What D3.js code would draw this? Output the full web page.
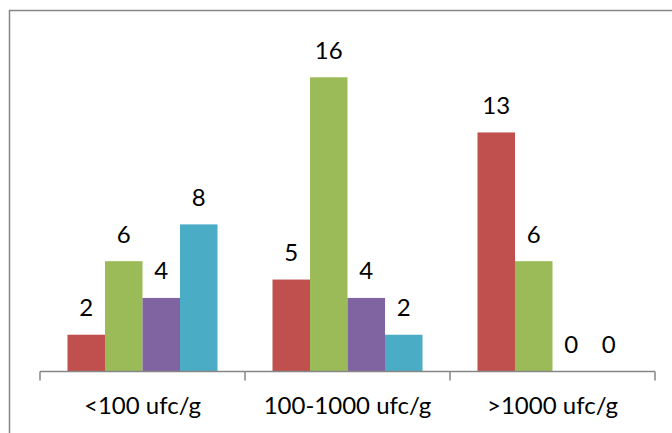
<!DOCTYPE html>
<html>
<head>
<meta charset="utf-8">
<script src="https://cdn.jsdelivr.net/npm/d3@7"></script>
<style>
  html, body { margin: 0; padding: 0; background: #fff; }
  svg { display: block; }
  text { font-family: Lato, "Open Sans", sans-serif; fill: #000; }
</style>
</head>
<body>
<svg id="chart" width="672" height="433"></svg>
<script>
// Counts per contamination class, one array per series
const categories = ["<100 ufc/g", "100-1000 ufc/g", ">1000 ufc/g"];
const seriesNames = ["Série 1", "Série 2", "Série 3", "Série 4"];
const serie1 = [2, 5, 13];
const serie2 = [6, 16, 6];
const serie3 = [4, 4, 0];
const serie4 = [8, 2, 0];
const seriesColors = ["#C0504D", "#9BBB59", "#8064A2", "#4BACC6"];

const series = [serie1, serie2, serie3, serie4];

const svg = d3.select("#chart");
const W = 672, H = 433;

// Chart frame (only top and left edges fall inside the view)
svg.append("path")
  .attr("d", `M9.5,${H} V10.5 H${W}`)
  .attr("fill", "none")
  .attr("stroke", "#868686")
  .attr("stroke-width", 1.5);

const plot = { left: 40, right: 655, top: 40.5, bottom: 371.5 };

const x0 = d3.scaleBand()
  .domain(categories)
  .range([plot.left, plot.right])
  .paddingInner(0)
  .paddingOuter(0);

// Bars in a cluster touch; the gap between clusters is ~1.47 bar widths
const x1 = d3.scaleBand()
  .domain(d3.range(series.length))
  .range([0, x0.bandwidth()])
  .paddingInner(0)
  .paddingOuter(0.733);

const y = d3.scaleLinear()
  .domain([0, 18])
  .range([plot.bottom, plot.top]);

// Bars
const groups = svg.append("g")
  .selectAll("g")
  .data(categories)
  .join("g")
  .attr("transform", c => `translate(${x0(c)},0)`);

groups.selectAll("rect")
  .data((c, ci) => series.map((s, si) => ({ si, v: s[ci] })))
  .join("rect")
  .attr("x", d => x1(d.si))
  .attr("width", x1.bandwidth())
  .attr("y", d => y(d.v))
  .attr("height", d => y(0) - y(d.v))
  .attr("fill", d => seriesColors[d.si]);

// Value labels
groups.selectAll("text")
  .data((c, ci) => series.map((s, si) => ({ si, v: s[ci] })))
  .join("text")
  .attr("x", d => x1(d.si) + x1.bandwidth() / 2)
  .attr("y", d => y(d.v) - 18.5)
  .attr("text-anchor", "middle")
  .attr("font-size", 24)
  .text(d => d.v);

// Category axis
const axis = svg.append("g")
  .attr("transform", `translate(0,${plot.bottom})`);

axis.append("line")
  .attr("x1", plot.left).attr("x2", plot.right)
  .attr("stroke", "#868686").attr("stroke-width", 1.5);

const tickPos = categories.map(c => x0(c)).concat([plot.right]);
axis.selectAll("line.tick")
  .data(tickPos)
  .join("line")
  .attr("class", "tick")
  .attr("x1", d => d).attr("x2", d => d)
  .attr("y1", 0).attr("y2", 9)
  .attr("stroke", "#868686").attr("stroke-width", 1.5);

axis.selectAll("text")
  .data(categories)
  .join("text")
  .attr("x", c => x0(c) + x0.bandwidth() / 2)
  .attr("y", 42.5)
  .attr("text-anchor", "middle")
  .attr("font-size", 24)
  .text(c => c);
</script>
</body>
</html>
